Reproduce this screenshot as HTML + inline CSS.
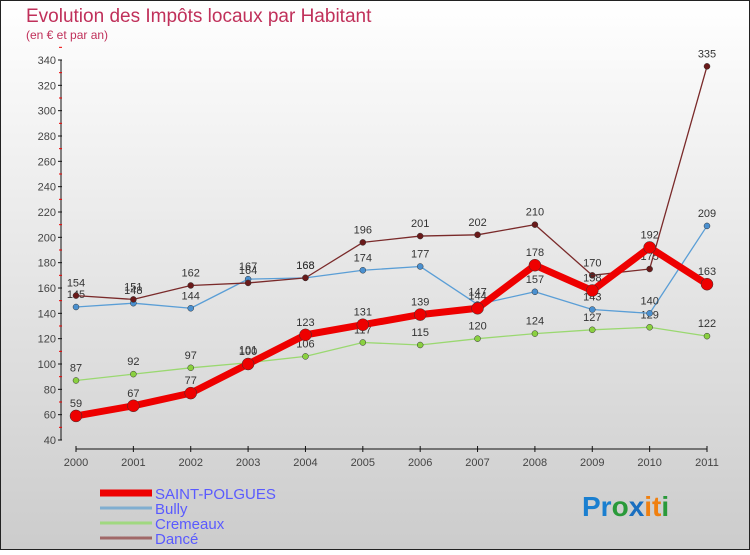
<!DOCTYPE html>
<html><head><meta charset="utf-8"><style>
body{margin:0}
#c{width:750px;height:550px;position:relative;font-family:"Liberation Sans",sans-serif;}
</style></head><body>
<div id="c">
<svg id="s" width="750" height="550" xmlns="http://www.w3.org/2000/svg">
<defs><linearGradient id="bg" x1="0" y1="0" x2="0" y2="1"><stop offset="0" stop-color="#ffffff"/><stop offset="1" stop-color="#cccccc"/></linearGradient></defs>
<rect x="0.5" y="0.5" width="749" height="549" fill="url(#bg)" stroke="#222"/>
<text x="26" y="22" font-size="19" fill="#c0305a">Evolution des Impôts locaux par Habitant</text>
<text x="26" y="39" font-size="12" fill="#c0305a">(en € et par an)</text>
<g id="axes"></g>
<g id="series"></g>
<g id="legend"></g>
<text x="582" y="516" font-size="28" font-weight="bold"><tspan fill="#1a7fd0">Pr</tspan><tspan fill="#2a9a3a">o</tspan><tspan fill="#1a6fc0">x</tspan><tspan fill="#f08010">it</tspan><tspan fill="#2a9a3a">i</tspan></text>
</svg>
</div>
<script>
const years=[2000,2001,2002,2003,2004,2005,2006,2007,2008,2009,2010,2011];
const yTicks=[40,60,80,100,120,140,160,180,200,220,240,260,280,300,320,340];
const saintPolgues=[59,67,77,100,123,131,139,144,178,158,192,163];
const bully=[145,148,144,167,168,174,177,147,157,143,140,209];
const cremeaux=[87,92,97,101,106,117,115,120,124,127,129,122];
const dance=[154,151,162,164,168,196,201,202,210,170,175,335];
const NS="http://www.w3.org/2000/svg";
function xS(i){return 76+i*(707-76)/(years.length-1);}
function yS(v){return 440-(v-40)*(380/300);}
function mk(tag,attrs,parent){const e=document.createElementNS(NS,tag);for(const k in attrs)e.setAttribute(k,attrs[k]);parent.appendChild(e);return e;}
const ax=document.getElementById('axes');
let yl=mk('line',{x1:61,y1:yS(340),x2:61,y2:yS(40),stroke:'#111'},ax);


yTicks.forEach(v=>{
 mk('line',{x1:58,x2:62,y1:yS(v),y2:yS(v),stroke:'#111'},ax);
 mk('line',{x1:59,x2:62,y1:yS(v+10),y2:yS(v+10),stroke:'#e00'},ax);
 const t=mk('text',{x:56,y:yS(v)+4,'font-size':11,fill:'#444','text-anchor':'end'},ax);
 t.textContent=v;
 
 
});
let xl=mk('line',{x1:xS(0),y1:449,x2:xS(11),y2:449,stroke:'#111'},ax);


years.forEach((y,i)=>{
 mk('line',{x1:xS(i),x2:xS(i),y1:446,y2:452,stroke:'#111'},ax);
 const t=mk('text',{x:xS(i),y:466,'font-size':11,fill:'#444','text-anchor':'middle'},ax);
 t.textContent=y;
 
 
});
const sg=document.getElementById('series');
function draw(data,color,dot,w,r,name){
 const g=mk('g',{},sg);
 
 
 mk('polyline',{points:data.map((v,i)=>xS(i)+','+yS(v)).join(' '),fill:'none',stroke:color,'stroke-width':w,'stroke-linejoin':'round'},g);
 data.forEach((v,i)=>{
  const c=mk('circle',{cx:xS(i),cy:yS(v),r:r,fill:dot,stroke:'#333','stroke-width':0.5},g);
  
  
  const t=mk('text',{x:xS(i),y:yS(v)-9,'font-size':11,fill:'#333','text-anchor':'middle'},g);
  t.textContent=v;
  
  
 });
}
draw(cremeaux,'#9ad870','#8ad040',1.3,3,'cremeaux');
draw(bully,'#5a9ed6','#4a90d0',1.3,3,'bully');
draw(dance,'#7a2a2a','#6a1a1a',1.3,3,'dance');
draw(saintPolgues,'#ee0000','#ee0000',7,6,'saint-polgues');
const lg=document.getElementById('legend');
const items=[['SAINT-POLGUES','#ee0000',7],['Bully','#80aed0',3],['Cremeaux','#a0d880',3],['Dancé','#a06868',3]];
items.forEach((it,i)=>{
 const y=493+i*15;
 const g=mk('g',{},lg);
 
 
 mk('line',{x1:100,x2:152,y1:y,y2:y,stroke:it[1],'stroke-width':it[2]},g);
 const t=mk('text',{x:155,y:y+6,'font-size':15,fill:'#5a5aff'},g);
 t.textContent=it[0];
});
</script>
</body></html>
